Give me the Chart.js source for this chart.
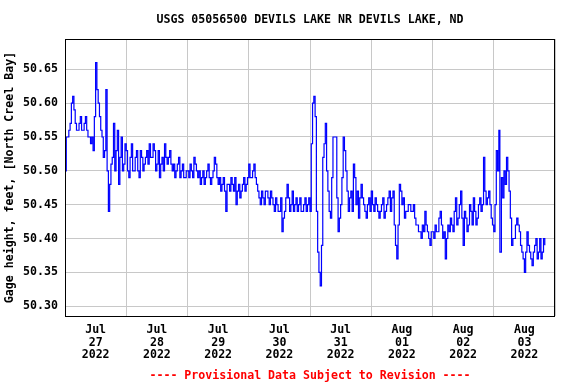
<!DOCTYPE html>
<html><head><meta charset="utf-8">
<script src="https://cdn.jsdelivr.net/npm/chart.js@4"></script>
<style>html,body{margin:0;padding:0;background:#fff}</style>
</head><body>
<canvas id="c" width="576" height="384"></canvas>
<script>
const chartTitle = 'USGS 05056500 DEVILS LAKE NR DEVILS LAKE, ND';
const yTitle = 'Gage height, feet, [North Creel Bay]';
const footerText = '---- Provisional Data Subject to Revision ----';
const dayLabels = [['Jul','27','2022'],['Jul','28','2022'],['Jul','29','2022'],['Jul','30','2022'],
                   ['Jul','31','2022'],['Aug','01','2022'],['Aug','02','2022'],['Aug','03','2022']];
const yTicks = [50.30,50.35,50.40,50.45,50.50,50.55,50.60,50.65];
// hours since 2022-07-27 00:00
const hours = [
0,0.5,1,1.5,2,2.5,3,3.5,4,4.5,5,5.5,6,6.5,7,7.5,8,8.5,9,9.5,10,10.5,11,11.5,
12,12.5,13,13.5,14,14.5,15,15.5,16,16.5,17,17.5,18,18.5,19,19.5,20,20.5,21,21.5,22,22.5,23,23.5,
24,24.5,25,25.5,26,26.5,27,27.5,28,28.5,29,29.5,30,30.5,31,31.5,32,32.5,33,33.5,34,34.5,35,35.5,
36,36.5,37,37.5,38,38.5,39,39.5,40,40.5,41,41.5,42,42.5,43,43.5,44,44.5,45,45.5,46,46.5,47,47.5,
48,48.5,49,49.5,50,50.5,51,51.5,52,52.5,53,53.5,54,54.5,55,55.5,56,56.5,57,57.5,58,58.5,59,59.5,
60,60.5,61,61.5,62,62.5,63,63.5,64,64.5,65,65.5,66,66.5,67,67.5,68,68.5,69,69.5,70,70.5,71,71.5,
72,72.5,73,73.5,74,74.5,75,75.5,76,76.5,77,77.5,78,78.5,79,79.5,80,80.5,81,81.5,82,82.5,83,83.5,
84,84.5,85,85.5,86,86.5,87,87.5,88,88.5,89,89.5,90,90.5,91,91.5,92,92.5,93,93.5,94,94.5,95,95.5,
96,96.5,97,97.5,98,98.5,99,99.5,100,100.5,101,101.5,102,102.5,103,103.5,104,104.5,105,105.5,106,106.5,107,107.5,
108,108.5,109,109.5,110,110.5,111,111.5,112,112.5,113,113.5,114,114.5,115,115.5,116,116.5,117,117.5,118,118.5,119,119.5,
120,120.5,121,121.5,122,122.5,123,123.5,124,124.5,125,125.5,126,126.5,127,127.5,128,128.5,129,129.5,130,130.5,131,131.5,
132,132.5,133,133.5,134,134.5,135,135.5,136,136.5,137,137.5,138,138.5,139,139.5,140,140.5,141,141.5,142,142.5,143,143.5,
144,144.5,145,145.5,146,146.5,147,147.5,148,148.5,149,149.5,150,150.5,151,151.5,152,152.5,153,153.5,154,154.5,155,155.5,
156,156.5,157,157.5,158,158.5,159,159.5,160,160.5,161,161.5,162,162.5,163,163.5,164,164.5,165,165.5,166,166.5,167,167.5,
168,168.5,169,169.5,170,170.4,171,171.5,172,172.5,173,173.5,174,174.5,175,175.5,176,176.5,177,177.5,178,178.5,179,179.5,
180,180.5,181,181.5,182,182.5,183,183.5,184,184.5,185,185.5,186,186.5,187,187.5,188];
const gage = [
50.50,50.55,50.55,50.56,50.57,50.60,50.61,50.59,50.57,50.56,50.56,50.57,50.58,50.56,50.56,50.57,50.58,50.56,50.55,50.55,50.54,50.55,50.53,50.58,
50.66,50.62,50.60,50.58,50.56,50.55,50.52,50.53,50.62,50.50,50.44,50.48,50.51,50.52,50.57,50.50,50.53,50.56,50.48,50.52,50.55,50.50,50.51,50.54,
50.53,50.50,50.49,50.52,50.54,50.50,50.50,50.52,50.53,50.50,50.49,50.53,50.52,50.50,50.51,50.52,50.53,50.51,50.54,50.52,50.52,50.54,50.53,50.50,
50.51,50.53,50.49,50.51,50.52,50.50,50.54,50.52,50.51,50.52,50.53,50.51,50.50,50.51,50.49,50.50,50.51,50.52,50.49,50.50,50.51,50.49,50.49,50.50,
50.50,50.49,50.51,50.50,50.49,50.52,50.51,50.50,50.49,50.50,50.48,50.49,50.50,50.48,50.49,50.50,50.51,50.49,50.48,50.49,50.50,50.52,50.51,50.49,
50.48,50.49,50.47,50.48,50.49,50.47,50.44,50.48,50.48,50.47,50.49,50.48,50.47,50.49,50.45,50.47,50.48,50.46,50.47,50.48,50.49,50.47,50.48,50.49,
50.51,50.49,50.49,50.50,50.51,50.49,50.48,50.47,50.46,50.45,50.47,50.46,50.45,50.47,50.47,50.46,50.45,50.47,50.46,50.45,50.44,50.46,50.45,50.44,
50.44,50.46,50.41,50.43,50.44,50.46,50.48,50.46,50.44,50.45,50.47,50.44,50.45,50.46,50.44,50.45,50.46,50.44,50.44,50.45,50.46,50.44,50.45,50.46,
50.44,50.54,50.60,50.61,50.58,50.44,50.38,50.35,50.33,50.39,50.52,50.54,50.57,50.50,50.47,50.44,50.43,50.49,50.55,50.55,50.55,50.46,50.41,50.43,
50.45,50.49,50.55,50.53,50.50,50.47,50.44,50.46,50.47,50.44,50.51,50.49,50.45,50.47,50.43,50.46,50.48,50.46,50.45,50.44,50.43,50.45,50.46,50.44,
50.47,50.45,50.44,50.46,50.45,50.44,50.43,50.44,50.45,50.46,50.43,50.44,50.45,50.46,50.47,50.44,50.46,50.47,50.42,50.39,50.37,50.42,50.48,50.47,
50.45,50.46,50.43,50.44,50.44,50.45,50.45,50.44,50.44,50.45,50.43,50.42,50.42,50.41,50.41,50.40,50.42,50.41,50.44,50.42,50.41,50.40,50.39,50.41,
50.41,50.40,50.42,50.41,50.41,50.43,50.44,50.42,50.40,50.41,50.37,50.40,50.42,50.41,50.43,50.42,50.41,50.44,50.46,50.42,50.43,50.45,50.47,50.43,
50.39,50.44,50.43,50.41,50.42,50.45,50.44,50.42,50.46,50.44,50.42,50.43,50.45,50.46,50.44,50.45,50.52,50.47,50.45,50.46,50.47,50.45,50.43,50.42,
50.41,50.45,50.53,50.50,50.56,50.38,50.49,50.46,50.50,50.48,50.52,50.50,50.47,50.43,50.39,50.40,50.40,50.42,50.43,50.42,50.41,50.39,50.38,50.37,
50.35,50.38,50.41,50.39,50.38,50.37,50.36,50.38,50.39,50.40,50.37,50.38,50.40,50.37,50.38,50.40,50.39];

const monoFont = {family:'"DejaVu Sans Mono", monospace', size:11.6, weight:'bold', lineHeight:1.12};

const tickVals = [];
dayLabels.forEach((d,i)=>{ tickVals.push(24*i, 24*i+12); });
tickVals.push(24*dayLabels.length);

const framePlugin = {
  id:'frame',
  afterDraw(chart){
    const ctx = chart.ctx, a = chart.chartArea;
    ctx.save();
    ctx.strokeStyle = '#000'; ctx.lineWidth = 1;
    ctx.strokeRect(a.left+0.5, a.top+0.5, a.right-a.left-1, a.bottom-a.top);
    ctx.font = 'bold 11.6px "DejaVu Sans Mono", monospace';
    ctx.textAlign = 'center'; ctx.textBaseline = 'middle';
    ctx.fillStyle = '#000';
    ctx.fillText(chartTitle, (a.left+a.right)/2, 20);
    ctx.fillStyle = '#ff0000';
    ctx.fillText(footerText, (a.left+a.right)/2, 376);
    ctx.restore();
  }
};

new Chart(document.getElementById('c'), {
  type:'line',
  data:{datasets:[{
    data: hours.map((h,i)=>({x:h, y:gage[i]})),
    borderColor:'#0000ff', borderWidth:1.2, pointRadius:0, fill:false, tension:0, stepped:true
  }]},
  options:{
    responsive:false, animation:false, devicePixelRatio:1,
    layout:{padding:{top:39, right:21, left:0, bottom:0}},
    plugins:{legend:{display:false}, title:{display:false}, tooltip:{enabled:false}},
    scales:{
      x:{type:'linear', min:0, max:192,
        afterBuildTicks:s=>{ s.ticks = tickVals.map(v=>({value:v})); },
        afterFit:s=>{ s.height = 68; },
        grid:{color:c=> (c.tick && c.tick.value%24===0) ? '#c8c8c8' : 'rgba(0,0,0,0)', drawTicks:false, lineWidth:1},
        border:{display:false},
        ticks:{autoSkip:false, maxRotation:0, minRotation:0, padding:7, color:'#000', font:monoFont,
          callback:v=> (v%24===12) ? dayLabels[(v-12)/24] : ''}
      },
      y:{min:50.2855, max:50.6948,
        afterBuildTicks:s=>{ s.ticks = yTicks.map(v=>({value:v})); },
        afterFit:s=>{ s.width = 65; },
        grid:{color:'#c8c8c8', drawTicks:false, lineWidth:1},
        border:{display:false},
        ticks:{padding:7, color:'#000', font:monoFont, callback:v=>Number(v).toFixed(2)},
        title:{display:true, text:yTitle, color:'#000', font:monoFont, padding:{top:3, bottom:0}}
      }
    }
  },
  plugins:[framePlugin]
});
</script>
</body></html>
